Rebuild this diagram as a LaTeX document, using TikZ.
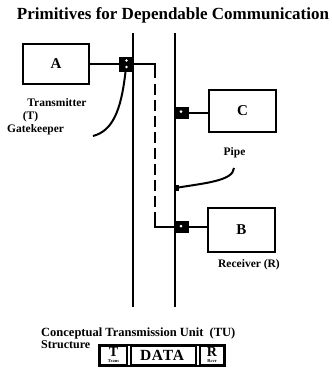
\documentclass[tikz,border=0pt]{standalone}
\usepackage{fontspec}
\setmainfont{Liberation Serif}
\usetikzlibrary{calc}
\begin{document}
\begin{tikzpicture}[x=1pt,y=-1pt,
  unitbox/.style={draw,line width=2pt,minimum width=66pt,minimum height=40pt,font=\fontsize{15}{15}\selectfont\bfseries,inner sep=0pt},
  gk/.style={fill=black,minimum width=13pt,minimum height=15pt,inner sep=0pt},
  wall/.style={line width=2.8pt},
  conn/.style={line width=2pt},
  lead/.style={line width=2pt},
  lbl/.style={font=\fontsize{11.5}{12}\selectfont\bfseries,inner sep=0pt},
  cell/.style={draw,line width=2pt,minimum height=19pt,inner sep=0pt}]
\useasboundingbox (0,0) rectangle (332,373);
% title
\node[font=\fontsize{17}{17}\selectfont\bfseries] (title) at (173,15) {Primitives for Dependable Communication};
% walls of the pipe
\coordinate (L1t) at (133,33); \coordinate (L1b) at (133,307);
\coordinate (L2t) at (175,33); \coordinate (L2b) at (175,307);
\draw[wall] (L1t) -- (L1b);
\draw[wall] (L2t) -- (L2b);
% units
\node[unitbox] (A) at (56,64) {A};
\node[unitbox,minimum width=67pt,minimum height=42pt] (C) at (242.5,111) {C};
\node[unitbox,minimum width=67pt,minimum height=44pt] (B) at (241.5,230) {B};
% gatekeepers
\node[gk] (gT) at (125.5,64) {};
\fill[white] ($(gT.center)+(1,-3.5)$) circle (1.4pt) ($(gT.center)+(1,3)$) circle (1.4pt);
\node[gk,minimum width=13pt,minimum height=12pt] (gC) at (182,112.5) {};
\fill[white] ($(gC.center)+(-1,-1)$) circle (1.5pt);
\node[gk,minimum width=13pt,minimum height=12pt] (gB) at (182,227) {};
\fill[white] ($(gB.center)+(-1,-1)$) circle (1.5pt);
\node[fill=black,minimum width=3pt,minimum height=6pt,inner sep=0pt] (pm) at (177,188) {};
% connectors
\draw[conn] (A.east) -- (A.east -| gT.west);
\draw[conn] (gC.east) -- (gC.east -| C.west);
\draw[conn] (gB.east) -- (gB.east -| B.west);
\coordinate (dx) at (155,150);
\draw[line width=2.2pt] (gT.east) -- (gT.east -| dx) -- ($(gT.east -| dx)+(0,14)$);
\draw[line width=2.2pt,dash pattern=on 11pt off 5pt] ($(gT.east -| dx)+(0,20)$) -- ($(dx |- gB.west)+(0,-4)$);
\draw[line width=2.2pt] ($(dx |- gB.west)+(0,-4)$) -- (dx |- gB.west) -- (gB.west);
% labels
\node[lbl] (tx) at (57,103) {Transmitter};
\node[lbl] (txT) at (30.5,117) {(T)};
\node[lbl,anchor=west] (gkl) at (7,130) {Gatekeeper};
\node[lbl] (pipe) at (234.5,153) {Pipe};
\node[lbl] (rcv) at (249,265) {Receiver (R)};
\coordinate (gTend) at (93,136);
\draw[lead] (gT.south) .. controls (121,112) and (112,131) .. (gTend);
\coordinate (pipeend) at (234,168);
\draw[lead] (pipeend) .. controls (233,181) and (205,183) .. (pm.west);
% TU structure
\node[lbl,anchor=west,font=\fontsize{12.5}{12.5}\selectfont\bfseries] (tu) at (41,333) {Conceptual Transmission Unit\ \ (TU)};
\node[lbl,anchor=west,font=\fontsize{12}{12}\selectfont\bfseries] (st) at (41,344.5) {Structure};
\node[cell,minimum width=27pt] (cT) at (113.5,355.5) {};
\node[cell,minimum width=65pt] (cD) at (163,355.5) {};
\node[cell,minimum width=24pt] (cR) at (212,355.5) {};
\draw[line width=2pt] (cT.north west) rectangle (cR.south east);
\node[font=\fontsize{14}{14}\selectfont\bfseries,inner sep=0pt] (tT) at (113.5,352) {T};
\node[font=\fontsize{4.5}{4.5}\selectfont\bfseries,inner sep=0pt] (tTs) at (113.5,361.5) {Trans};
\node[font=\fontsize{15.5}{15}\selectfont\bfseries,inner sep=0pt] (tD) at (162,355.5) {\addfontfeature{LetterSpace=5}DATA};
\node[font=\fontsize{14}{14}\selectfont\bfseries,inner sep=0pt] (tR) at (212,352) {R};
\node[font=\fontsize{4.5}{4.5}\selectfont\bfseries,inner sep=0pt] (tRs) at (212,361.5) {Rcvr};
\end{tikzpicture}
\end{document}
